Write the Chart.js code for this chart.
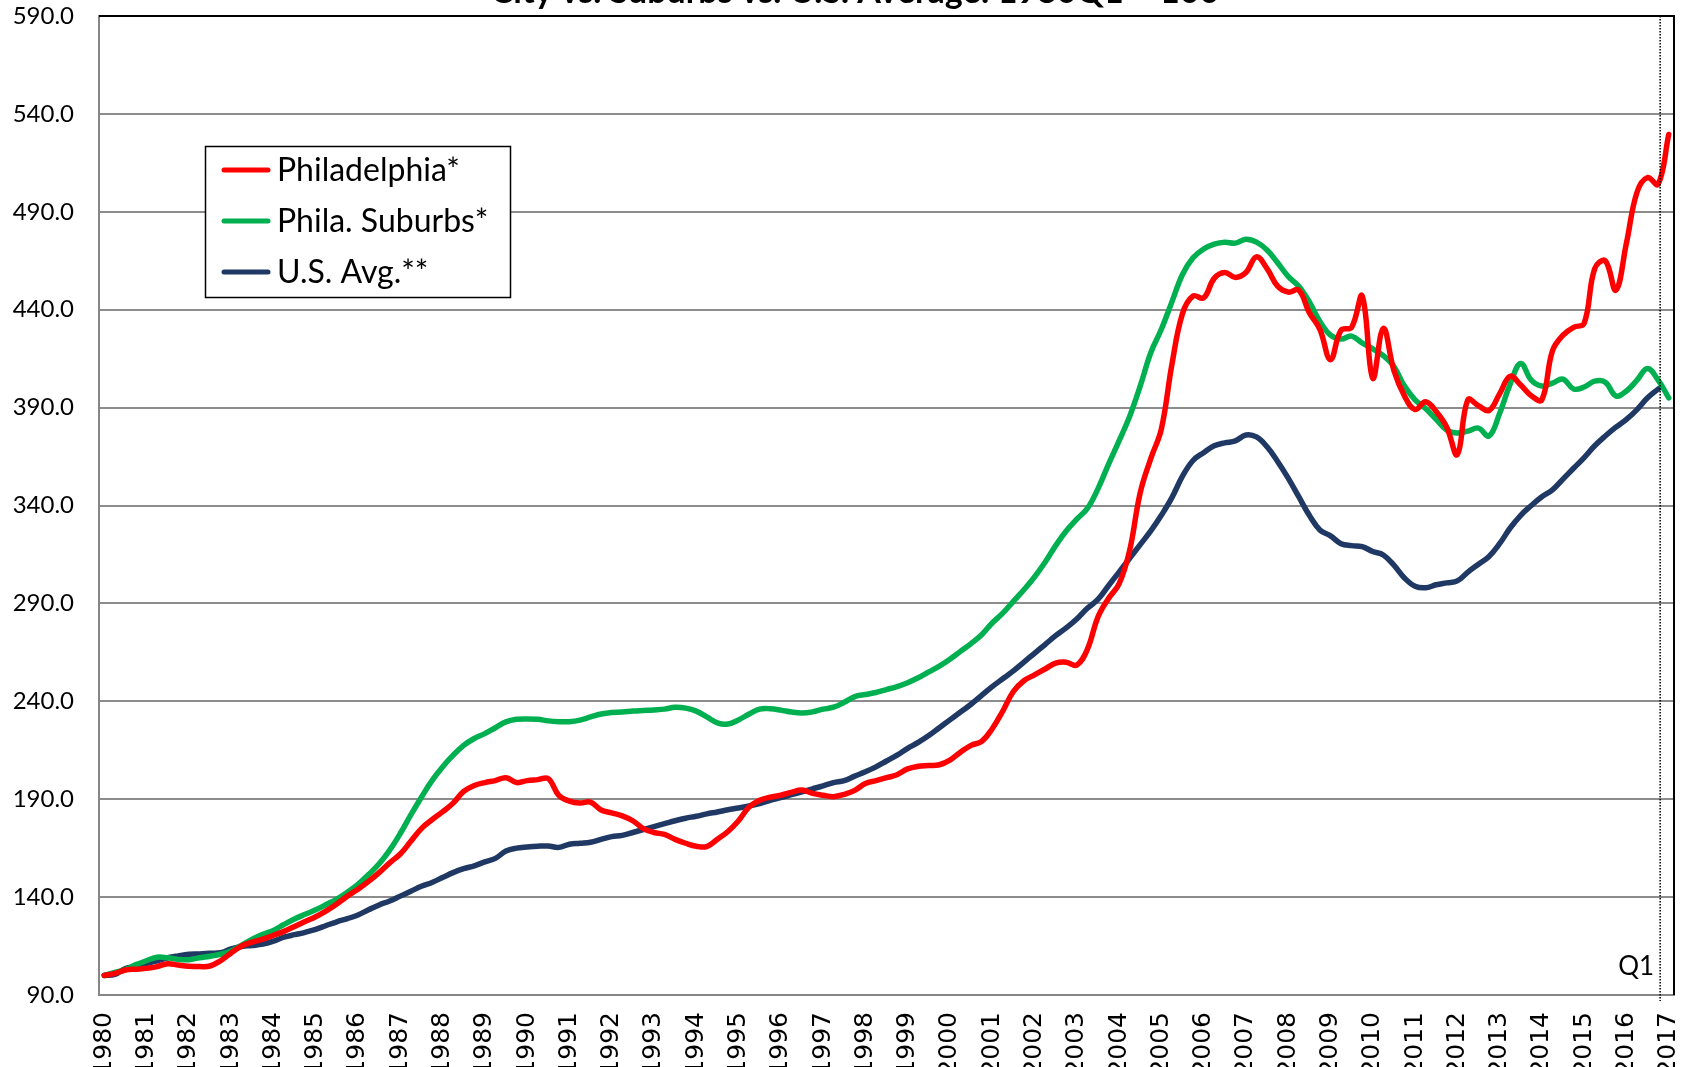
<!DOCTYPE html>
<html>
<head>
<meta charset="utf-8">
<script src="https://cdn.jsdelivr.net/npm/chart.js@4.4.1/dist/chart.umd.min.js"></script>
<style>
  body { margin: 0; background: #fff; }
  #wrap { width: 1690px; height: 1067px; overflow: hidden; }
</style>
</head>
<body>
<div id="wrap"><canvas id="hpiChart" width="1690" height="1067"></canvas></div>
<script>
// years on the axis, data is quarterly from 1980Q1 to 2017Q1
var years = [];
for (var y = 1980; y <= 2017; y++) years.push(y);
var quarters = [];
years.forEach(function (yr) {
  ['Q1', 'Q2', 'Q3', 'Q4'].forEach(function (q) {
    if (yr < 2017 || q === 'Q1') quarters.push(yr + q);
  });
});

var seriesNames = ['Philadelphia*', 'Phila. Suburbs*', 'U.S. Avg.**'];

var philadelphia = [
  100, 101, 102.8, 103.2, 103.6, 104.5, 106, 105.3, 104.7, 104.5, 104.8, 107.5,
  111.5, 115, 117, 118.5, 120.5, 122.5, 125, 127.5, 130, 133, 136.5, 140.5,
  144, 148, 152.5, 157.5, 162, 168.5, 175, 179.5, 183.5, 188, 194, 197,
  198.5, 199.5, 201, 198.5, 199.5, 200, 200.5, 192, 189, 188, 188.5, 184.5,
  183, 181.5, 179, 175, 173, 172, 169.5, 167.5, 166, 165.8, 169.5, 173.5,
  179, 186, 189.5, 191, 192, 193.5, 194.7, 193, 192, 191.3, 192.5, 194.5,
  198, 199.5, 201, 202.5, 205.5, 206.8, 207.2, 207.6, 210, 214, 217.5, 219.5,
  226, 235, 245, 250.5, 253.5, 256.5, 259.5, 260, 258.5, 266.5, 283, 292.5,
  300, 317, 346.5, 364, 379, 412, 438, 447, 446, 456, 459, 456.5,
  459, 467, 461, 452, 449, 450, 438.5, 430, 414.5, 429.5, 431, 447,
  405, 430.5, 409, 396, 389, 393, 388, 380, 366, 394, 391, 388.5,
  397, 406, 401.5, 396, 394, 419, 427, 431, 433, 461, 465, 450,
  474, 500, 507.5, 504, 529.5
];

var suburbs = [
  100, 101.5, 103, 105.5, 107.5, 109.3, 109, 108.2, 108, 109, 109.8, 110.8,
  112.5, 115.5, 118.5, 121, 123, 126, 128.8, 131.2, 133.5, 136.2, 139, 142.5,
  146.5, 151.5, 157, 164, 172.5, 182, 191, 199.5, 206.5, 212.5, 217.5, 221,
  223.5, 226.5, 229.5, 230.8, 231, 230.8, 230, 229.6, 229.6, 230.4, 232, 233.5,
  234.3, 234.5, 235, 235.3, 235.6, 236, 236.9, 236.5, 235, 232, 229, 228.4,
  230.5, 233.5, 236, 236.2, 235.5, 234.5, 234, 234.6, 236, 237, 239.5, 242.4,
  243.5, 244.5, 246, 247.5, 249.5, 252, 255, 258, 261.5, 265.5, 269.5, 274,
  280, 285, 291, 297, 303.5, 311, 319.5, 327, 333, 338.5, 348.5, 361,
  373, 385.5, 401, 418, 430, 444, 458, 466.5, 471, 473.5, 474.5, 474,
  476, 474.5, 470.5, 464, 457, 452, 444, 434, 427, 425, 426.5, 423,
  420, 416.5, 411, 401, 394, 389.5, 384, 378.5, 377, 378, 379.5, 375.5,
  387, 402, 412.5, 404, 401, 402.5, 404.5, 399.5, 400.5, 403.5, 403, 396,
  398.5, 404, 410, 404, 395
];

// U.S. series stops one quarter earlier (2016Q4)
var usAvg = [
  100, 100.5, 103.5, 104.5, 106, 107.5, 109, 110, 110.8, 111, 111.3, 111.6,
  113.5, 114.8, 115.3, 116, 117.5, 119.5, 120.8, 122, 123.5, 125.5, 127.4, 129,
  130.9, 133.5, 136, 138, 140.5, 143, 145.5, 147.5, 150, 152.5, 154.5, 156,
  158, 159.8, 163.5, 165, 165.6, 166, 166.1, 165.4, 167, 167.5, 168, 169.5,
  170.9, 171.5, 173, 174.5, 176, 177.5, 179, 180.3, 181.3, 182.5, 183.5, 184.6,
  185.5, 186.5, 187.8, 189.4, 190.8, 192.3, 193.8, 195.3, 196.8, 198.5, 199.5, 201.8,
  204, 206.5, 209.5, 212.5, 216, 219, 222.5, 226.5, 230.5, 234.5, 238.5, 243,
  247.5, 251.5, 255.5, 260, 264.5, 269, 273.5, 277.5, 282, 287.5, 292, 299,
  306, 313, 320, 327, 335, 344, 355, 363, 367, 370.5, 372, 373,
  376, 375, 370, 362.5, 354, 344.5, 335, 327.5, 324.5, 320.5, 319.5, 319,
  316.5, 314.7, 309.5, 303, 298.8, 298, 299.5, 300.5, 301.5, 306, 310, 314,
  320.5, 328.5, 335, 340, 344.5, 348, 353.5, 359, 364.5, 370.5, 375.5, 380,
  384, 389, 395, 399.5
];

var yMin = 90, yMax = 590, yStep = 50;
var markerQuarter = '2016Q4';

var colors = ['#ff0000', '#00b050', '#1f3864'];

// title is cut off at the top edge of the picture
var titlePlugin = {
  id: 'clippedTitle',
  beforeDraw: function (chart) {
    var ctx = chart.ctx;
    ctx.save();
    ctx.font = 'bold 34px Lato';
    ctx.fillStyle = '#000';
    ctx.textAlign = 'center';
    ctx.textBaseline = 'alphabetic';
    ctx.fillText('City vs. Suburbs vs. U.S. Average: 1980Q1 = 100', 855, 3);
    ctx.restore();
  }
};

var framePlugin = {
  id: 'frame',
  afterDraw: function (chart) {
    var ctx = chart.ctx, a = chart.chartArea;
    var x = chart.scales.x, yS = chart.scales.y;
    ctx.save();
    // black top/right border
    ctx.strokeStyle = '#000';
    ctx.lineWidth = 2;
    ctx.beginPath();
    ctx.moveTo(a.left, a.top);
    ctx.lineTo(a.right, a.top);
    ctx.lineTo(a.right, a.bottom);
    ctx.stroke();

    // dotted marker line
    var mx = x.getPixelForValue(quarters.indexOf(markerQuarter)) + 2;
    ctx.lineWidth = 1.5;
    ctx.setLineDash([1.5, 1.5]);
    ctx.beginPath();
    ctx.moveTo(mx, a.top);
    ctx.lineTo(mx, a.bottom + 6);
    ctx.stroke();
    ctx.setLineDash([]);

    ctx.font = '26px Lato';
    ctx.fillStyle = '#000';
    ctx.textAlign = 'right';
    ctx.textBaseline = 'middle';
    ctx.fillText('Q1', mx - 6, yS.getPixelForValue(104.5));

    // legend box
    ctx.fillStyle = '#fff';
    ctx.fillRect(205, 146, 305, 151);
    ctx.strokeStyle = '#000';
    ctx.lineWidth = 1.5;
    ctx.strokeRect(205.5, 146.5, 305, 151);
    ctx.font = '32px Lato';
    ctx.textAlign = 'left';
    chart.data.datasets.forEach(function (ds, i) {
      var ry = 170 + i * 51;
      ctx.strokeStyle = ds.borderColor;
      ctx.lineWidth = 5;
      ctx.lineCap = 'round';
      ctx.beginPath();
      ctx.moveTo(224, ry);
      ctx.lineTo(268, ry);
      ctx.stroke();
      ctx.fillStyle = '#000';
      ctx.fillText(ds.label, 277, ry + 1);
    });
    ctx.restore();
  }
};

var hpiChart = new Chart(document.getElementById('hpiChart'), {
  type: 'line',
  data: {
    labels: quarters,
    datasets: [
      { label: seriesNames[0], data: philadelphia, borderColor: colors[0] },
      { label: seriesNames[1], data: suburbs, borderColor: colors[1] },
      { label: seriesNames[2], data: usAvg, borderColor: colors[2] }
    ]
  },
  options: {
    responsive: false,
    animation: false,
    layout: { padding: { top: 16, right: 16, left: 0, bottom: 0 } },
    elements: {
      line: { borderWidth: 5.5, tension: 0.4, fill: false, borderCapStyle: 'round' },
      point: { radius: 0 }
    },
    plugins: {
      legend: { display: false },
      tooltip: { enabled: false }
    },
    scales: {
      x: {
        offset: true,
        grid: { display: false, drawTicks: false },
        border: { color: '#868686', width: 2 },
        ticks: {
          autoSkip: false,
          minRotation: 90,
          maxRotation: 90,
          padding: 17,
          color: '#000',
          font: { family: 'DejaVu Sans', size: 25 },
          callback: function (v, i) {
            var q = quarters[i];
            return q.slice(4) === 'Q1' ? q.slice(0, 4) : '';
          }
        },
        afterFit: function (s) {
          s.height = 72;
          s.paddingLeft = 0;
          s.paddingRight = 0;
        }
      },
      y: {
        min: yMin,
        max: yMax,
        grid: { color: '#8c8c8c', lineWidth: 2, drawTicks: false },
        border: { color: '#868686', width: 2 },
        ticks: {
          stepSize: yStep,
          padding: 25,
          color: '#000',
          font: { family: 'Lato', size: 24 },
          callback: function (v) { return v.toFixed(1); }
        },
        afterFit: function (s) {
          s.width = 99;
          s.paddingTop = 0;
          s.paddingBottom = 0;
        }
      }
    }
  },
  plugins: [titlePlugin, framePlugin]
});
</script>
</body>
</html>
